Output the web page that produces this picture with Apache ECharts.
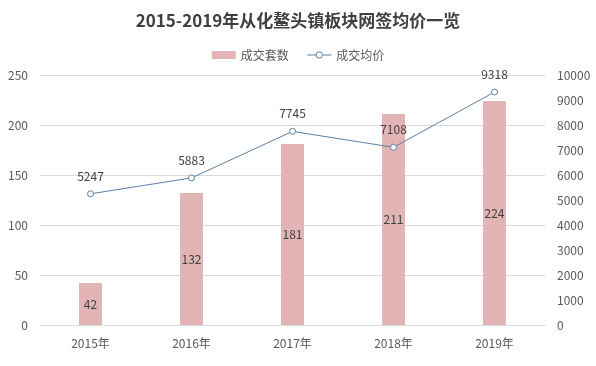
<!DOCTYPE html>
<html>
<head>
<meta charset="utf-8">
<script src="https://cdn.jsdelivr.net/npm/echarts@6/dist/echarts.min.js"></script>
<style>
  html, body { margin: 0; padding: 0; background: #fff; }
  #chart { width: 596px; height: 366px; }
</style>
</head>
<body>
<div id="chart"></div>
<script>
var years = ['2015年', '2016年', '2017年', '2018年', '2019年'];
var deals = [42, 132, 181, 211, 224];
var prices = [5247, 5883, 7745, 7108, 9318];

var chart = echarts.init(document.getElementById('chart'));
var font = '"Microsoft YaHei", "Noto Sans CJK SC", sans-serif';

var option = {
  backgroundColor: '#fff',
  textStyle: { fontFamily: font },
  title: {
    text: '2015-2019年从化鳌头镇板块网签均价一览',
    left: 'center',
    top: 7,
    textStyle: { fontSize: 17, fontWeight: 'bold', color: '#404040', fontFamily: font }
  },
  legend: {
    top: 44,
    left: 'center',
    itemGap: 18,
    itemWidth: 24,
    itemHeight: 8,
    textStyle: { fontSize: 12, color: '#595959' },
    data: [
      { name: '成交套数', icon: 'rect' },
      { name: '成交均价', lineStyle: { width: 1 }, itemStyle: { color: '#fff', borderColor: '#5b80a8', borderWidth: 1 } }
    ]
  },
  grid: { left: 40, right: 51, top: 75, bottom: 41 },
  xAxis: {
    type: 'category',
    data: years,
    axisLine: { lineStyle: { color: '#d9d9d9' } },
    axisTick: { show: false },
    axisLabel: { color: '#595959', fontSize: 12, margin: 12 }
  },
  yAxis: [
    {
      type: 'value',
      min: 0, max: 250, interval: 50,
      axisLine: { show: false },
      axisTick: { show: false },
      axisLabel: { color: '#595959', fontSize: 12, margin: 12 },
      splitLine: { lineStyle: { color: '#d9d9d9' } }
    },
    {
      type: 'value',
      min: 0, max: 10000, interval: 1000,
      axisLine: { show: false },
      axisTick: { show: false },
      axisLabel: { color: '#595959', fontSize: 12, margin: 12, formatter: function (v) { return String(v); } },
      splitLine: { show: false }
    }
  ],
  series: [
    {
      name: '成交套数',
      type: 'bar',
      data: deals,
      barWidth: 23,
      itemStyle: { color: '#e3b4b6' },
      label: { show: true, position: 'inside', color: '#404040', fontSize: 12 }
    },
    {
      name: '成交均价',
      type: 'line',
      yAxisIndex: 1,
      data: prices,
      symbol: 'circle',
      symbolSize: 6,
      lineStyle: { color: '#5b80a8', width: 1 },
      itemStyle: { color: '#fff', borderColor: '#5b80a8', borderWidth: 1 },
      label: { show: true, position: 'top', distance: 8, color: '#404040', fontSize: 12 }
    }
  ]
};
chart.setOption(option);
</script>
</body>
</html>
